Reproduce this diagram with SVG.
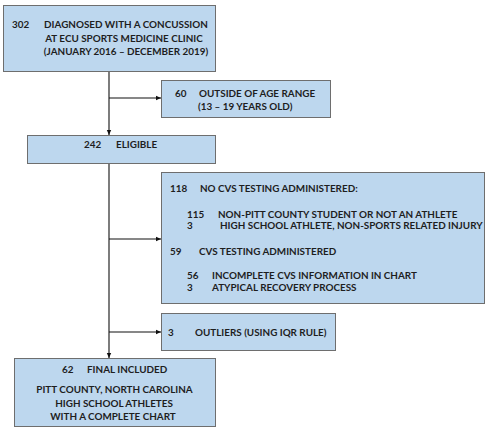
<svg xmlns="http://www.w3.org/2000/svg" width="490" height="427" viewBox="0 0 490 427">
<defs>
<marker id="arr" markerWidth="6" markerHeight="6" refX="5" refY="3" orient="auto" markerUnits="userSpaceOnUse">
<path d="M0,0.8 L5,3 L0,5.2 Z" fill="#111"/>
</marker>
<style>
.box{fill:#bdd7ee;stroke:#6e6e6e;stroke-width:1}
.t{font-family:Lato,"Liberation Sans",sans-serif;font-weight:bold;font-size:9.9px;fill:#1e1e1e}
.c{text-anchor:middle}
.ln{stroke:#111;stroke-width:1.1;fill:none}
</style>
</defs>
<rect width="490" height="427" fill="#fff"/>
<g id="connectors">
<path class="ln" d="M109,72 V135" marker-end="url(#arr)"/>
<path class="ln" d="M109,98 H161" marker-end="url(#arr)"/>
<path class="ln" d="M109,163 V358" marker-end="url(#arr)"/>
<path class="ln" d="M109,239 H161" marker-end="url(#arr)"/>
<path class="ln" d="M109,332 H161" marker-end="url(#arr)"/>
</g>
<g id="diagnosed">
<rect class="box" x="3.5" y="5.5" width="212" height="66"/>
<text class="t" x="12" y="28">302</text>
<text class="t c" x="126" y="28">DIAGNOSED WITH A CONCUSSION</text>
<text class="t c" x="124" y="41.5">AT ECU SPORTS MEDICINE CLINIC</text>
<text class="t c" x="126" y="55">(JANUARY 2016 – DECEMBER 2019)</text>
</g>
<g id="age">
<rect class="box" x="161.5" y="80.5" width="169" height="37"/>
<text class="t" x="175" y="97">60</text>
<text class="t" x="199" y="97">OUTSIDE OF AGE RANGE</text>
<text class="t" x="198" y="109.5">(13 – 19 YEARS OLD)</text>
</g>
<g id="eligible">
<rect class="box" x="27.5" y="135.5" width="188" height="28"/>
<text class="t" x="84" y="148">242</text>
<text class="t" x="116" y="148">ELIGIBLE</text>
</g>
<g id="excluded">
<rect class="box" x="161.5" y="172.5" width="323" height="131"/>
<text class="t" x="170" y="192">118</text>
<text class="t" x="200" y="192">NO CVS TESTING ADMINISTERED:</text>
<text class="t" x="187" y="218">115</text>
<text class="t" x="218" y="218">NON-PITT COUNTY STUDENT OR NOT AN ATHLETE</text>
<text class="t" x="187" y="229">3</text>
<text class="t" x="220" y="229">HIGH SCHOOL ATHLETE, NON-SPORTS RELATED INJURY</text>
<text class="t" x="170" y="255">59</text>
<text class="t" x="199" y="255">CVS TESTING ADMINISTERED</text>
<text class="t" x="187" y="279">56</text>
<text class="t" x="212" y="279">INCOMPLETE CVS INFORMATION IN CHART</text>
<text class="t" x="187" y="291">3</text>
<text class="t" x="212" y="291">ATYPICAL RECOVERY PROCESS</text>
</g>
<g id="outliers">
<rect class="box" x="161.5" y="313.5" width="174" height="37"/>
<text class="t" x="168" y="336">3</text>
<text class="t" x="195" y="336">OUTLIERS (USING IQR RULE)</text>
</g>
<g id="final">
<rect class="box" x="14.5" y="358.5" width="201" height="68"/>
<text class="t" x="62" y="373">62</text>
<text class="t" x="87" y="373">FINAL INCLUDED</text>
<text class="t c" x="114.5" y="393">PITT COUNTY, NORTH CAROLINA</text>
<text class="t c" x="114" y="407">HIGH SCHOOL ATHLETES</text>
<text class="t c" x="113" y="420">WITH A COMPLETE CHART</text>
</g>
</svg>
